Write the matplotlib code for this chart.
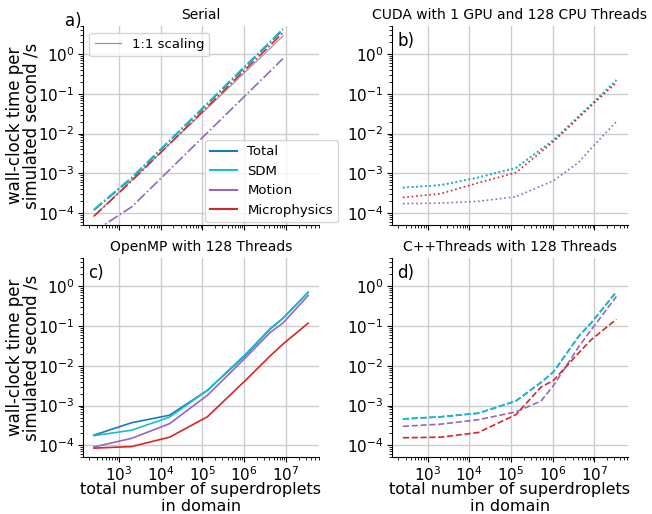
import matplotlib
matplotlib.use("Agg")
import matplotlib.pyplot as plt
from matplotlib.lines import Line2D

plt.rcParams["axes.unicode_minus"] = False

# ---------------- data ----------------
nsupers = [256, 2048, 16384, 131072, 1048576, 4194304, 8388608, 33554432]
nsupers_serial = [256, 2048, 16384, 131072, 1048576, 4194304, 8388608]
nsupers_cpp = [256, 2048, 16384, 131072, 524288, 1048576, 4194304, 8388608, 33554432]

series_names = ["Total", "SDM", "Motion", "Microphysics"]

serial_total = [1.2e-4, 7.6e-4, 6.5e-3, 0.055, 0.47, 1.95, 4.0]
serial_sdm = [1.25e-4, 8.0e-4, 6.8e-3, 0.058, 0.50, 2.05, 4.3]
serial_motion = [3.5e-5, 1.45e-4, 1.23e-3, 0.0105, 0.089, 0.37, 0.76]
serial_micro = [8.5e-5, 6.5e-4, 5.5e-3, 0.047, 0.40, 1.65, 3.4]
scaling_x = [256, 8388608]
scaling_y = [8.5e-5, 2.79]

cuda_total = [4.4e-4, 5.1e-4, 7.9e-4, 1.38e-3, 6.9e-3, 0.027, 0.054, 0.22]
cuda_sdm = [4.4e-4, 5.1e-4, 7.9e-4, 1.38e-3, 6.9e-3, 0.027, 0.054, 0.22]
cuda_motion = [1.75e-4, 1.8e-4, 2.0e-4, 2.6e-4, 6.6e-4, 1.9e-3, 4.3e-3, 0.02]
cuda_micro = [2.5e-4, 3.1e-4, 5.8e-4, 1.05e-3, 6.3e-3, 0.025, 0.05, 0.19]

omp_total = [1.8e-4, 3.7e-4, 5.7e-4, 2.4e-3, 0.018, 0.084, 0.155, 0.70]
omp_sdm = [1.75e-4, 2.4e-4, 5.1e-4, 2.4e-3, 0.019, 0.087, 0.155, 0.70]
omp_motion = [9.1e-5, 1.5e-4, 3.5e-4, 1.8e-3, 0.0155, 0.069, 0.118, 0.58]
omp_micro = [8.5e-5, 9.3e-5, 1.6e-4, 5.2e-4, 4.2e-3, 0.0178, 0.035, 0.117]

cpp_total = [4.6e-4, 5.2e-4, 6.4e-4, 1.3e-3, 3.8e-3, 7.0e-3, 0.055, 0.12, 0.72]
cpp_sdm = [4.6e-4, 5.2e-4, 6.4e-4, 1.3e-3, 3.8e-3, 7.0e-3, 0.055, 0.12, 0.72]
cpp_motion = [3.0e-4, 3.4e-4, 4.4e-4, 6.9e-4, 1.3e-3, 3.2e-3, 0.03, 0.08, 0.55]
cpp_micro = [1.55e-4, 1.6e-4, 2.1e-4, 5.9e-4, 2.9e-3, 4.3e-3, 0.021, 0.045, 0.147]

titles = ["Serial", "CUDA with 1 GPU and 128 CPU Threads",
          "OpenMP with 128 Threads", "C++Threads with 128 Threads"]
panel_labels = ["a)", "b)", "c)", "d)"]
xlabel = "total number of superdroplets\nin domain"
ylabel = "wall-clock time per\nsimulated second /s"

colors = ["#1f77b4", "#17becf", "#9467bd", "#d62728"]

# ---------------- figure ----------------
fig = plt.figure(figsize=(6.52, 5.14), dpi=100)
W, H = 652, 514
def axpos(l, t, r, b):
    return [l / W, 1 - b / H, (r - l) / W, (b - t) / H]

axes = [
    fig.add_axes(axpos(82.7, 26, 319.3, 225.3)),
    fig.add_axes(axpos(391.7, 26, 627.5, 225.3)),
    fig.add_axes(axpos(82.7, 258.3, 319.3, 457.3)),
    fig.add_axes(axpos(391.7, 258.3, 627.5, 457.3)),
]

panels = [
    (nsupers_serial, [serial_total, serial_sdm, serial_motion, serial_micro], "-."),
    (nsupers, [cuda_total, cuda_sdm, cuda_motion, cuda_micro], ":"),
    (nsupers, [omp_total, omp_sdm, omp_motion, omp_micro], "-"),
    (nsupers_cpp, [cpp_total, cpp_sdm, cpp_motion, cpp_micro], "--"),
]

FS_TICK = 11
FS_LABEL = 11.5
FS_TITLE = 10
FS_LEG = 9.5
FS_PANEL = 12

for i, (ax, (xs, ys, ls)) in enumerate(zip(axes, panels)):
    ax.set_xscale("log")
    ax.set_yscale("log")
    ax.grid(True, which="major", color="#cccccc", lw=1.0)
    ax.set_axisbelow(True)
    if i == 0:
        ax.plot(scaling_x, scaling_y, color="#999999", lw=0.9, ls="-",
                label="1:1 scaling")
    for y, c in zip(ys, colors):
        ax.plot(xs, y, color=c, ls=ls, lw=1.2)
    ax.set_xlim(138, 6.2e7)
    ax.set_ylim(5e-5, 5)
    ax.spines["top"].set_visible(False)
    ax.spines["right"].set_visible(False)
    ax.tick_params(labelsize=FS_TICK)
    ax.tick_params(axis="x", which="major", pad=2)
    ax.tick_params(axis="y", which="major", pad=2.5)
    ax.set_title(titles[i], fontsize=FS_TITLE, pad=5)
    if i < 2:
        ax.tick_params(axis="x", labelbottom=False)
    else:
        ax.set_xlabel(xlabel, fontsize=FS_LABEL, linespacing=1.2)
        ax.xaxis.set_label_coords(0.5, -0.124)
    if i % 2 == 0:
        ax.set_ylabel(ylabel, fontsize=FS_LABEL + 0.5, linespacing=0.85)
        ax.yaxis.set_label_coords(-0.18, 0.5)
    if i == 0:
        ax.text(-0.075, 1.07, panel_labels[i], transform=ax.transAxes,
                fontsize=FS_PANEL, ha="left", va="top")
    else:
        ax.text(0.025, 0.97, panel_labels[i], transform=ax.transAxes,
                fontsize=FS_PANEL, ha="left", va="top")

ax = axes[0]
leg1 = ax.legend(loc="upper left", fontsize=FS_LEG)
ax.add_artist(leg1)
handles = [Line2D([], [], color=c, lw=1.5) for c in colors]
ax.legend(handles, series_names, loc="lower right", bbox_to_anchor=(1.08, 0.015),
          borderaxespad=0, fontsize=FS_LEG)

fig.savefig("out.png", dpi=100)
